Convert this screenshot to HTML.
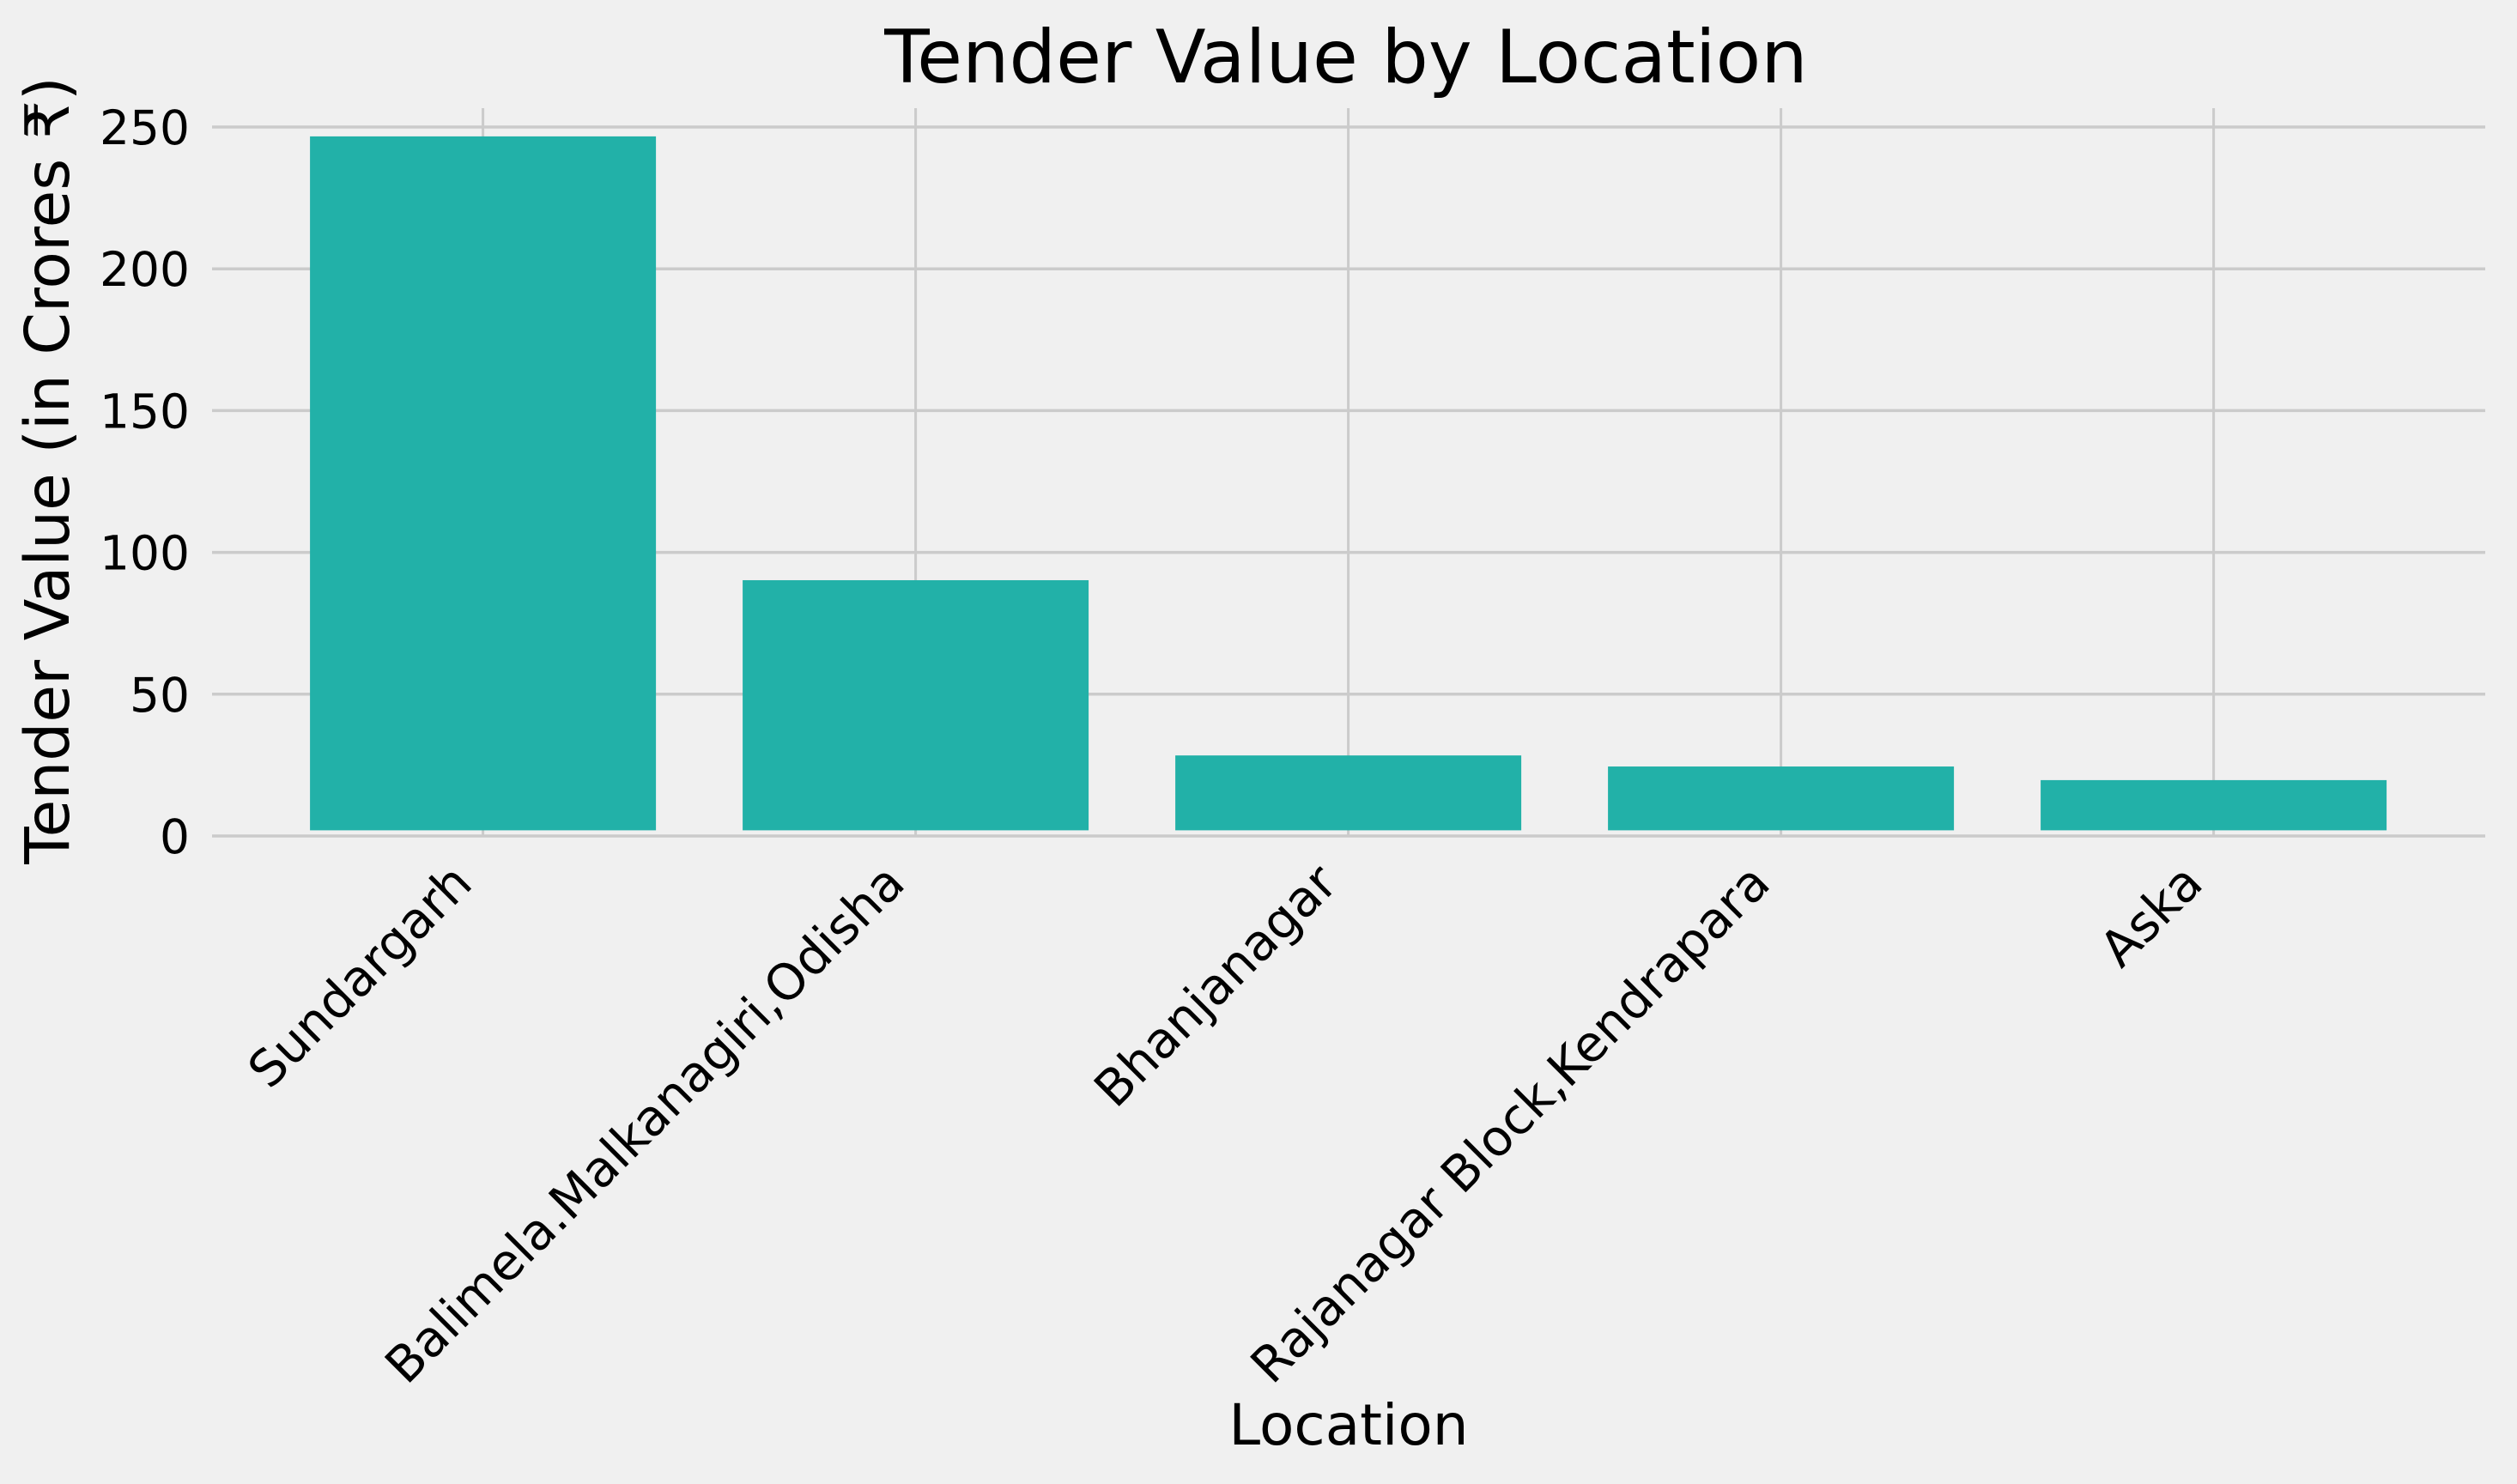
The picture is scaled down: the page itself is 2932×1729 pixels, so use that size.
<!DOCTYPE html>
<html><head><meta charset="utf-8"><style>
html,body{margin:0;padding:0;background:#f0f0f0;}
svg{display:block;font-family:"DejaVu Sans","Liberation Sans",sans-serif;}
</style></head><body>
<svg id="chart" width="2932" height="1729" viewBox="0 0 2932 1729" xmlns="http://www.w3.org/2000/svg">
<rect x="0" y="0" width="2932" height="1729" fill="#f0f0f0"/>
<g id="grid"></g><g id="bars"></g><g id="labels"></g>
<text x="1568" y="96" font-size="86" text-anchor="middle" fill="#000">Tender Value by Location</text>
<text x="1571" y="1683" font-size="66" text-anchor="middle" fill="#000">Location</text>
<text transform="translate(80,548) rotate(-90)" font-size="71" text-anchor="middle" fill="#000">Tender Value (in Crores ₹)</text>
</svg>
<script>
const categories = ["Sundargarh","Balimela.Malkanagiri,Odisha","Bhanjanagar","Rajanagar Block,Kendrapara","Aska"];
const values = [246.7, 90.2, 28.4, 24.5, 19.7];
const yTicks = [0, 50, 100, 150, 200, 250];

const NS = "http://www.w3.org/2000/svg";
const x0 = 562.6, step = 504, barW = 403;
const plotLeft = 247, plotRight = 2895, plotTop = 126, yZero = 974, perUnit = 3.304;
function xPos(i){ return x0 + i*step; }
function yPos(v){ return yZero - v*perUnit; }
function mk(tag, attrs, parent){ const e = document.createElementNS(NS, tag); for (const k in attrs) e.setAttribute(k, attrs[k]); parent.appendChild(e); return e; }

const grid = document.getElementById('grid');
const bars = document.getElementById('bars');
const labels = document.getElementById('labels');

yTicks.forEach(t => {
  const l = mk('line', {x1:plotLeft, x2:plotRight, y1:yPos(t), y2:yPos(t), stroke:'#cbcbcb', 'stroke-width':3.5}, grid);
  
  
  const tx = mk('text', {x:221, y:yPos(t)+20, 'font-size':55, 'text-anchor':'end', fill:'#000'}, labels);
  tx.textContent = t;
  
  
});

categories.forEach((c, i) => {
  const cx = xPos(i);
  const gl = mk('line', {x1:cx, x2:cx, y1:plotTop, y2:yZero, stroke:'#cbcbcb', 'stroke-width':3}, grid);
  
  
  const base = yPos(2);
  const yt = yPos(values[i]);
  const r = mk('rect', {x:cx-barW/2, y:yt, width:barW, height:Math.max(0, base-yt), fill:'#22b1a8'}, bars);
  
  
  const tx = mk('text', {transform:'translate(' + (cx-10) + ',1032) rotate(-45)', 'font-size':58, 'text-anchor':'end', fill:'#000'}, labels);
  tx.textContent = c;
  
  
});
</script>
</body></html>
